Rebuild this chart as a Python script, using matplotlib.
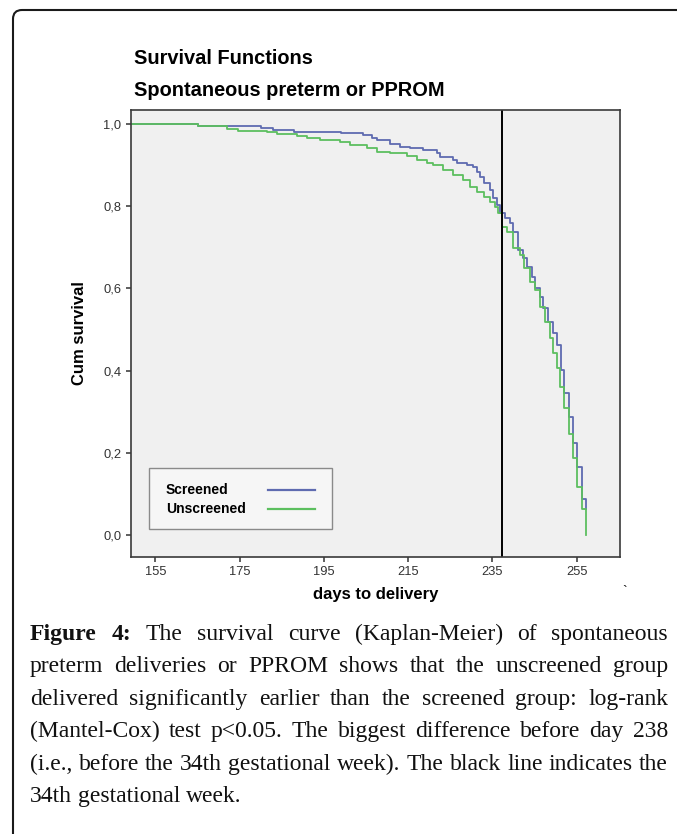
import matplotlib
matplotlib.use("Agg")
import matplotlib.pyplot as plt
from matplotlib.lines import Line2D
from matplotlib.patches import Rectangle, FancyBboxPatch
from matplotlib.ticker import FuncFormatter
from matplotlib.transforms import IdentityTransform

# ---------------- data ----------------
screened_days = [149, 165, 180, 183, 188, 199, 204.4, 206.4, 207.5, 210.7,
                 213, 215.5, 218.6, 221.8, 222.6, 225.7, 226.5, 228.9, 230.5, 231.3,
                 232, 232.9, 234.5, 235.2, 236, 236.8, 238, 239.2, 240, 241.1,
                 242.3, 243.2, 244.4, 245.1, 246.3, 247.1, 248.3, 249.5, 250.4, 251.4,
                 252.0, 253.2, 254.2, 255.1, 256.2, 257.3]
screened_surv = [1.0, 0.995, 0.99, 0.986, 0.981, 0.977, 0.972, 0.966, 0.961, 0.952,
                 0.944, 0.941, 0.937, 0.929, 0.92, 0.912, 0.904, 0.9, 0.895, 0.883,
                 0.871, 0.856, 0.839, 0.82, 0.803, 0.783, 0.771, 0.759, 0.738, 0.693,
                 0.674, 0.653, 0.628, 0.601, 0.58, 0.552, 0.519, 0.491, 0.462, 0.401,
                 0.345, 0.287, 0.224, 0.165, 0.088, 0.063]

unscreened_days = [149, 165, 172, 174.6, 181.4, 183.8, 188.5, 190.9, 194, 198.8,
                   201.2, 205.2, 207.5, 210.7, 214.7, 217, 219.4, 221, 223.3, 225.7,
                   228, 229.7, 231.3, 232.9, 234.5, 235.6, 236.4, 237.2, 238.4, 240,
                   241.6, 242.4, 244, 245.1, 246.3, 247.5, 248.7, 249.5, 250.3, 251.1,
                   252.0, 253.2, 254.2, 255.1, 256.2, 257.3]
unscreened_surv = [1.0, 0.995, 0.988, 0.984, 0.981, 0.976, 0.971, 0.967, 0.961, 0.956,
                   0.949, 0.941, 0.933, 0.929, 0.922, 0.912, 0.905, 0.9, 0.888, 0.876,
                   0.864, 0.847, 0.835, 0.822, 0.81, 0.798, 0.783, 0.75, 0.738, 0.698,
                   0.681, 0.649, 0.616, 0.596, 0.556, 0.519, 0.479, 0.443, 0.406, 0.36,
                   0.309, 0.246, 0.187, 0.117, 0.063, 0.0]

week34_day = 237.3
series_labels = ["Screened", "Unscreened"]
x_ticks = [155, 175, 195, 215, 235, 255]
y_ticks = [0.0, 0.2, 0.4, 0.6, 0.8, 1.0]

title_lines = ["Survival Functions", "Spontaneous preterm or PPROM"]
x_label = "days to delivery"
y_label = "Cum survival"

caption_lines = [
    "Figure 4: The survival curve (Kaplan-Meier) of spontaneous",
    "preterm deliveries or PPROM shows that the unscreened group",
    "delivered significantly earlier than the screened group: log-rank",
    "(Mantel-Cox) test p<0.05. The biggest difference before day 238",
    "(i.e., before the 34th gestational week). The black line indicates the",
    "34th gestational week.",
]

# ---------------- figure ----------------
W, H = 677, 834
fig = plt.figure(figsize=(W / 100, H / 100), dpi=100)
fig.patch.set_facecolor("white")

SANS = ["Liberation Sans", "DejaVu Sans"]
SERIF = ["Liberation Serif", "DejaVu Serif"]

def fx(px):
    return px / W

def fy(py):
    return 1 - py / H

# outer rounded frame (only top-left corner visible)
frame = FancyBboxPatch((13, -60), 720, (H - 10) + 60, boxstyle="round,pad=0,rounding_size=9",
                       transform=IdentityTransform(), fill=False, edgecolor="#1a1a1a",
                       linewidth=1.5, clip_on=False)
fig.patches.append(frame)

ax_left, ax_right, ax_top, ax_bottom = 131, 620, 110, 557
ax = fig.add_axes([fx(ax_left), fy(ax_bottom), fx(ax_right - ax_left), (ax_bottom - ax_top) / H])
ax.set_facecolor("#f0f0f0")

blue = "#5e6bb0"
green = "#5cbf5f"

l1, = ax.plot(screened_days, screened_surv, drawstyle="steps-post", color=blue, lw=1.3)
l2, = ax.plot(unscreened_days, unscreened_surv, drawstyle="steps-post", color=green, lw=1.3)
ax.axvline(week34_day, color="black", lw=1.4)

ax.set_xlim(149.2, 265.3)
ax.set_ylim(-0.053, 1.034)
ax.set_xticks(x_ticks)
ax.set_yticks(y_ticks)
ax.yaxis.set_major_formatter(FuncFormatter(lambda v, p: f"{v:.1f}".replace(".", ",")))
ax.tick_params(direction="out", length=3.8, width=1.1, color="#333333",
               labelsize=9.3, labelcolor="#333333", pad=3)
for lab in ax.get_xticklabels() + ax.get_yticklabels():
    lab.set_fontfamily(SANS)
for s in ax.spines.values():
    s.set_color("#3a3a3a")
    s.set_linewidth(1.2)

ax.set_xlabel(x_label, fontsize=12, fontweight="bold", family=SANS, labelpad=6)
ax.set_ylabel(y_label, fontsize=12, fontweight="bold", family=SANS, labelpad=12)

# legend box (SPSS style: label then line sample)
ax.add_patch(Rectangle((0.0368, 0.0626), 0.374, 0.1365, transform=ax.transAxes,
                       facecolor="#f6f6f6", edgecolor="#8a8a8a", lw=1.0, zorder=5))
for yy, lab, line in [(0.150, series_labels[0], l1), (0.107, series_labels[1], l2)]:
    ax.text(0.0716, yy, lab, transform=ax.transAxes, fontsize=10, fontweight="bold",
            family=SANS, va="center", ha="left", zorder=6)
    ax.add_line(Line2D([0.280, 0.376], [yy, yy], transform=ax.transAxes,
                       color=line.get_color(), lw=1.6, zorder=6))

# title
fig.text(fx(134), fy(58), title_lines[0], fontsize=14.4, fontweight="bold", family=SANS,
         va="center", ha="left")
fig.text(fx(134), fy(91), title_lines[1], fontsize=14.4, fontweight="bold", family=SANS,
         va="center", ha="left")

# stray mark near the axis corner
fig.text(fx(625), fy(592), "`", fontsize=10, family=SANS, va="center", ha="center")

# caption, justified; font size fitted so the densest line has normal word spacing
renderer = fig.canvas.get_renderer()
cap_left, cap_right = 30, 668
avail = cap_right - cap_left
base0, spacing = 640, 32.4
s0 = 15.0

def measure(fs):
    out = []
    for i, line in enumerate(caption_lines):
        ws = []
        for j, w in enumerate(line.split(" ")):
            t = fig.text(0, 0, w, fontsize=fs, family=SERIF,
                         fontweight="bold" if (i == 0 and j < 2) else "normal")
            ws.append(t.get_window_extent(renderer).width)
            t.remove()
        out.append(ws)
    return out

m0 = measure(s0)
space0 = s0 * 100 / 72 * 0.25
k = min(avail / (sum(ws) + (len(ws) - 1) * space0) for ws in m0[:-1])
cap_fs = s0 * k

for i, line in enumerate(caption_lines):
    words = line.split(" ")
    objs = []
    for j, w in enumerate(words):
        bold = (i == 0 and j < 2)
        t = fig.text(0, fy(base0 + i * spacing), w, fontsize=cap_fs, family=SERIF,
                     fontweight="bold" if bold else "normal", va="baseline", ha="left",
                     color="#111111")
        objs.append(t)
    widths = [t.get_window_extent(renderer).width for t in objs]
    total = sum(widths)
    last = i == len(caption_lines) - 1
    if last or len(objs) == 1:
        gap = cap_fs * 100 / 72 * 0.25
    else:
        gap = (avail - total) / (len(objs) - 1)
    x = cap_left
    for t, w in zip(objs, widths):
        t.set_x(fx(x))
        x += w + gap

fig.savefig("out.png", dpi=100, facecolor="white")
